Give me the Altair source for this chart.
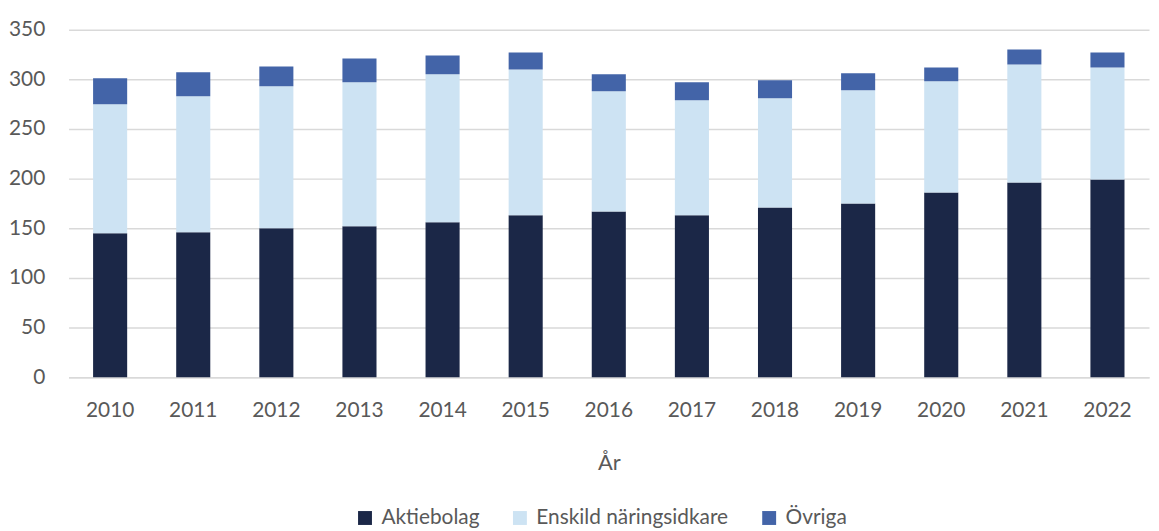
import altair as alt
import pandas as pd

years = [str(y) for y in range(2010, 2023)]
series = ["Aktiebolag", "Enskild näringsidkare", "Övriga"]
aktiebolag = [145, 146, 150, 152, 156, 163, 167, 163, 171, 175, 186, 196, 199]
enskild = [130, 137, 143, 145, 149, 147, 121, 116, 110, 114, 112, 119, 113]
ovriga = [26, 24, 20, 24, 19, 17, 17, 18, 18, 17, 14, 15, 15]
colors = ["#1b2747", "#cde3f3", "#4364a8"]

rows = []
for i, y in enumerate(years):
    for k, (name, vals) in enumerate(zip(series, [aktiebolag, enskild, ovriga])):
        rows.append({"År": y, "Serie": name, "Värde": vals[i], "idx": k})
df = pd.DataFrame(rows)

FONT = "Lato"
TXT = "#595959"
GRID = "#d9d9d9"

chart = alt.Chart(df).mark_bar().encode(
    x=alt.X("År:N", sort=years,
            scale=alt.Scale(paddingInner=0.59, paddingOuter=0.295),
            axis=alt.Axis(labelAngle=0, ticks=False, domainColor=GRID, domainWidth=1.5,
                          labelPadding=23, titlePadding=32, labelFontSize=21,
                          titleFontSize=22, titleFontWeight="normal")),
    y=alt.Y("Värde:Q", stack="zero", title=None,
            scale=alt.Scale(domain=[0, 350], nice=False),
            axis=alt.Axis(values=list(range(0, 351, 50)), ticks=False, domain=False,
                          gridColor=GRID, gridWidth=1.5, labelPadding=24, labelFontSize=21)),
    color=alt.Color("Serie:N", sort=series,
                    scale=alt.Scale(domain=series, range=colors),
                    legend=alt.Legend(title=None, orient="none", direction="horizontal",
                                      legendX=288, legendY=481, symbolType="square",
                                      symbolSize=196, symbolStrokeWidth=0, labelFontSize=21,
                                      labelOffset=6, columnPadding=30, labelColor=TXT,
                                      labelFont=FONT, labelLimit=400)),
    order=alt.Order("idx:Q", sort="ascending"),
).properties(
    width=1088, height=350,
    autosize=alt.AutoSizeParams(type="none"),
    padding={"left": 61, "top": 20, "right": 2, "bottom": 150},
).configure_view(stroke=None).configure_axis(
    labelFont=FONT, titleFont=FONT, labelColor=TXT, titleColor=TXT
)

chart.save("out.html", embed_options={"renderer": "svg", "actions": False})
